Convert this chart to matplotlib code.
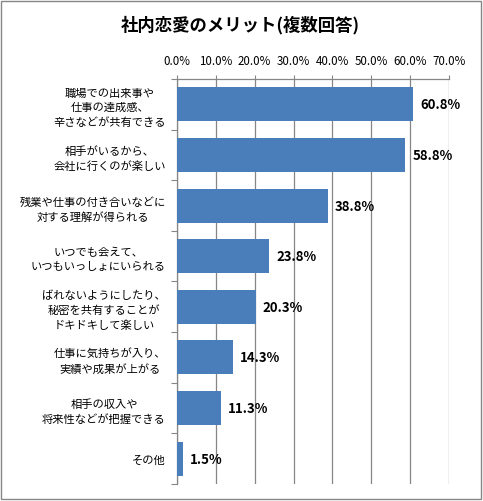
import matplotlib
matplotlib.use("Agg")
import matplotlib.pyplot as plt
from matplotlib.patches import Rectangle
from matplotlib.ticker import MultipleLocator, FuncFormatter

plt.rcParams['font.family'] = ['Noto Sans CJK JP', 'DejaVu Sans']

title = '社内恋愛のメリット(複数回答)'
categories = [
    '職場での出来事や\n仕事の達成感、\n辛さなどが共有できる',
    '相手がいるから、\n会社に行くのが楽しい',
    '残業や仕事の付き合いなどに\n対する理解が得られる',
    'いつでも会えて、\nいつもいっしょにいられる',
    'ばれないようにしたり、\n秘密を共有することが\nドキドキして楽しい',
    '仕事に気持ちが入り、\n実績や成果が上がる',
    '相手の収入や\n将来性などが把握できる',
    'その他',
]
values = [60.8, 58.8, 38.8, 23.8, 20.3, 14.3, 11.3, 1.5]

fig = plt.figure(figsize=(4.83, 5.02), dpi=100)
ax = fig.add_axes([0.3665, 0.034, 0.563, 0.8066])

pos = list(range(len(values)))
ax.barh(pos, values, height=0.67, color='#4A7EBB', zorder=3)
for p, v in zip(pos, values):
    ax.text(v + 1.8, p, '%.1f%%' % v, va='center', ha='left',
            fontsize=9.5, fontweight='bold', color='black')

ax.set_xlim(0, 70)
ax.set_ylim(len(values) - 0.5, -0.5)
ax.xaxis.set_major_locator(MultipleLocator(10))
ax.xaxis.set_major_formatter(FuncFormatter(lambda x, _: '%.1f%%' % x))
ax.xaxis.tick_top()
ax.tick_params(axis='x', direction='out', length=3, width=0.8, color='#868686',
               labelsize=8.3, pad=6)
ax.grid(axis='x', color='#868686', linewidth=0.9, zorder=0)

# category ticks sit at the boundaries, labels at the centres
ax.set_yticks([p - 0.5 for p in pos] + [len(values) - 0.5])
ax.set_yticklabels([])
ax.set_yticks(pos, minor=True)
ax.set_yticklabels(categories, minor=True, fontsize=8.1, multialignment='center',
                   linespacing=1.5)
ax.tick_params(axis='y', which='major', direction='out', length=4, width=0.8,
               color='#868686')
ax.tick_params(axis='y', which='minor', length=0, pad=8)

for s in ['right', 'bottom']:
    ax.spines[s].set_visible(False)
for s in ['left', 'top']:
    ax.spines[s].set_color('#868686')
    ax.spines[s].set_linewidth(0.9)

fig.text(0.497, 0.95, title, ha='center', va='center', fontsize=12.5, fontweight='bold')
fig.patches.append(Rectangle((0.002, 0.003), 0.994, 0.993, transform=fig.transFigure,
                             fill=False, edgecolor='#868686', linewidth=1.0))

fig.savefig('out.png', dpi=100)
